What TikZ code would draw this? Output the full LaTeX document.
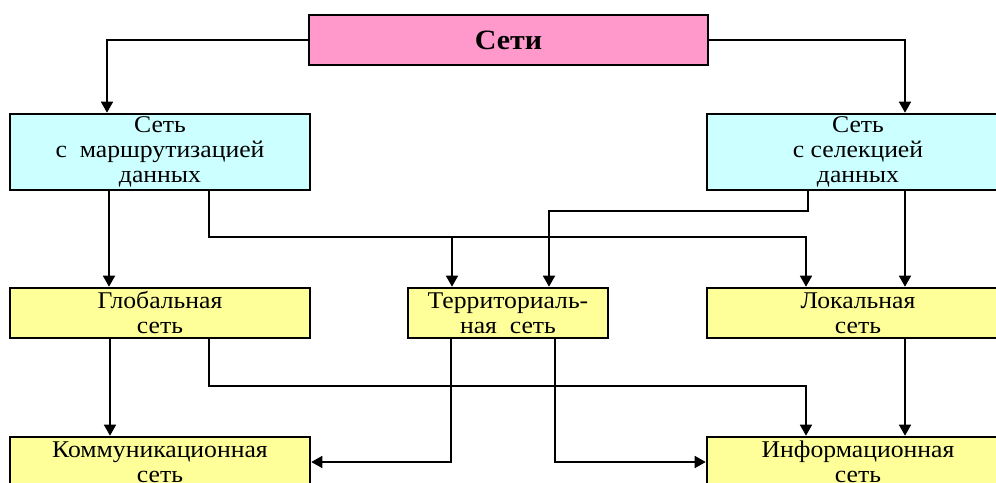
\documentclass[tikz,border=0pt]{standalone}
\usepackage{fontspec}
\setmainfont{Liberation Serif}[FakeStretch=1.07]
\usetikzlibrary{arrows.meta}
\definecolor{pinkbox}{HTML}{FF99CC}
\definecolor{bluebox}{HTML}{CCFFFF}
\definecolor{yellowbox}{HTML}{FFFF99}
\begin{document}
\begin{tikzpicture}[x=1pt,y=-1pt,
  box/.style={draw=black,line width=2.6pt,minimum height=50pt,inner sep=0pt,align=center,
    font=\fontsize{24}{25}\selectfont},
  bluebx/.style={box,fill=bluebox,minimum height=76pt},
  yelbx/.style={box,fill=yellowbox},
  conn/.style={line width=1.6pt,-{Triangle[width=12pt,length=11pt]}}]
\useasboundingbox (0,0) rectangle (996,482);
\clip (0,0) rectangle (996,482);
\fill[white] (0,0) rectangle (996,482);
\node[box,fill=pinkbox,minimum width=399pt,font=\fontsize{28}{30}\selectfont\bfseries] (seti) at (508.5,40) {Сети};
\node[bluebx,minimum width=300pt] (route) at (160,152) {Сеть\\с\ \ маршрутизацией\\данных};
\node[bluebx,minimum width=302pt] (select) at (858,152) {Сеть\\с селекцией\\данных};
\node[yelbx,minimum width=300pt] (glob) at (160,313) {Глобальная\\сеть};
\node[yelbx,minimum width=200pt] (terr) at (508,313) {Территориаль-\\ная\ \ сеть};
\node[yelbx,minimum width=302pt] (loc) at (858,313) {Локальная\\сеть};
\node[yelbx,minimum width=300pt] (comm) at (160,462) {Коммуникационная\\сеть};
\node[yelbx,minimum width=302pt] (info) at (858,462) {Информационная\\сеть};
% from Сети
\draw[conn] (seti.west) -| ([xshift=-53pt]route.north);
\draw[conn] (seti.east) -| ([xshift=47pt]select.north);
% from route
\draw[conn] ([xshift=-51pt]route.south) -- ([xshift=-51pt]glob.north);
\draw[conn] ([xshift=49pt]route.south) |- ([xshift=-52pt,yshift=50pt]loc.north) -- ([xshift=-52pt]loc.north);
\draw[conn] ([xshift=-56pt,yshift=50pt]terr.north) -- ([xshift=-56pt]terr.north);
% from select
\draw[conn] ([xshift=-50pt]select.south) |- ([xshift=41pt,yshift=76pt]terr.north) -- ([xshift=41pt]terr.north);
\draw[conn] ([xshift=47pt]select.south) -- ([xshift=47pt]loc.north);
% from glob
\draw[conn] ([xshift=-50pt]glob.south) -- ([xshift=-50pt]comm.north);
\draw[conn] ([xshift=49pt]glob.south) |- ([xshift=-52pt,yshift=50pt]info.north) -- ([xshift=-52pt]info.north);
% from terr
\draw[conn] ([xshift=-57pt]terr.south) |- (comm.east);
\draw[conn] ([xshift=47pt]terr.south) |- (info.west);
% from loc
\draw[conn] ([xshift=47pt]loc.south) -- ([xshift=47pt]info.north);
\end{tikzpicture}
\end{document}
